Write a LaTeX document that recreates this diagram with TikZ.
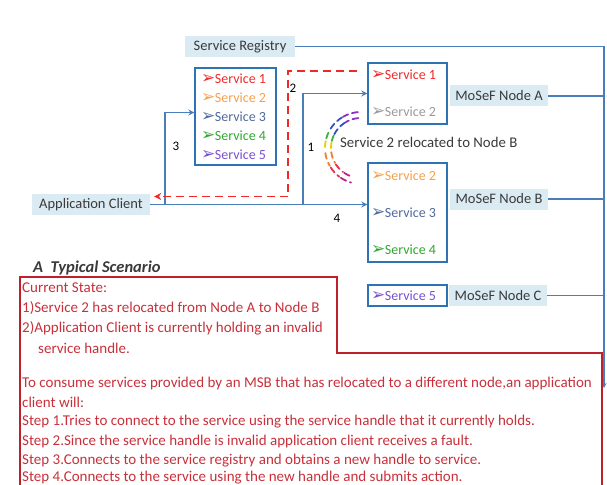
\documentclass[tikz,border=0pt]{standalone}
\usepackage{fontspec}
\setmainfont{Carlito}
\newfontfamily\djv{DejaVu Sans}
\usetikzlibrary{arrows.meta,calc}
\definecolor{lblue}{HTML}{DAEBF3}
\definecolor{bline}{HTML}{4A7EBB}
\definecolor{bbox}{HTML}{2E74B5}
\definecolor{rdash}{HTML}{F02828}
\definecolor{rtext}{HTML}{C8303A}
\definecolor{rbox}{HTML}{C0202A}
\definecolor{sred}{HTML}{EE2A2A}
\definecolor{sorange}{HTML}{F5A04A}
\definecolor{ssteel}{HTML}{4E6A9A}
\definecolor{sgreen}{HTML}{2EA82E}
\definecolor{spurple}{HTML}{7A4FD0}
\definecolor{sgray}{HTML}{9A9A9A}
\definecolor{dtext}{HTML}{3A3A3A}
\definecolor{apurple}{HTML}{8B2FC9}
\definecolor{ablue}{HTML}{3050D0}
\definecolor{agreen}{HTML}{40B040}
\definecolor{ayellow}{HTML}{E8D000}
\definecolor{aorange}{HTML}{F08030}
\definecolor{ared}{HTML}{E83050}
\definecolor{amagenta}{HTML}{C02090}
\newcommand\bul{{\djv\fontsize{17}{17}\selectfont ➢}\kern-0.5pt}
\newcommand\fs[1]{\fontsize{#1}{#1}\selectfont}
\begin{document}
\begin{tikzpicture}[x=1pt,y=-1pt,
  lbl/.style={fill=lblue, text=dtext, font=\fs{14.5}, minimum height=21pt, inner sep=0pt},
  sbox/.style={draw=bbox, line width=1.4pt, inner sep=0pt},
  svc/.style={anchor=west, font=\fs{14}, inner sep=0pt},
  bl/.style={draw=bline, line width=1.3pt},
  blarrow/.style={bl, -{Stealth[length=6pt,width=6pt]}},
  rd/.style={draw=rdash, line width=1.8pt, dash pattern=on 8pt off 5pt, -{Stealth[length=7pt,width=7pt]}},
  num/.style={font=\fs{13}, text=black, inner sep=0pt},
  rtxt/.style={anchor=west, text=rtext, font=\fs{15}, inner sep=0pt},
  arcseg/.style={line width=1.8pt, dash pattern=on 6pt off 4pt, line cap=round}
]
\useasboundingbox (0,0) rectangle (607,484);

% labels
\node[lbl, minimum width=110pt] (reg) at (240,46.5) {Service Registry};
\node[lbl, minimum width=118pt] (appc) at (91,204.5) {Application Client};
\node[lbl, minimum width=98pt] (nAl) at (499,96) {MoSeF Node A};
\node[lbl, minimum width=98pt] (nBl) at (499,199) {MoSeF Node B};
\node[lbl, minimum width=98pt] (nCl) at (498,295.5) {MoSeF Node C};

% boxes
\node[sbox, minimum width=81pt, minimum height=97pt] (list) at (235.5,116.5) {};
\node[sbox, minimum width=79pt, minimum height=61pt] (nA) at (407.5,93.5) {};
\node[sbox, minimum width=79pt, minimum height=99pt] (nB) at (407.5,212.5) {};
\node[sbox, minimum width=79pt, minimum height=21pt] (nC) at (407.5,295.5) {};

% service items
\node[svc, text=sred] (l1) at (201,79) {\bul Service 1};
\node[svc, text=sorange] (l2) at (201,98) {\bul Service 2};
\node[svc, text=ssteel] (l3) at (201,117) {\bul Service 3};
\node[svc, text=sgreen] (l4) at (201,136) {\bul Service 4};
\node[svc, text=spurple] (l5) at (201,155) {\bul Service 5};
\node[svc, text=sred] (a1) at (371,75) {\bul Service 1};
\node[svc, text=sgray] (a2) at (371,112) {\bul Service 2};
\node[svc, text=sorange] (b2) at (371,176) {\bul Service 2};
\node[svc, text=ssteel] (b3) at (371,213) {\bul Service 3};
\node[svc, text=sgreen] (b4) at (371,250) {\bul Service 4};
\node[svc, text=spurple] (c5) at (371,296) {\bul Service 5};

% coordinates
\coordinate (j3) at (165,0);
\coordinate (j4) at (303,0);
\coordinate (jr) at (288,0);
\coordinate (rt) at (604,46.5);
\coordinate (rb) at (604,388);
\coordinate (rs) at ([yshift=-9pt]nA.north west);
\coordinate (re) at ([yshift=8pt]appc.east);

% blue connectors
\draw[blarrow] (appc.east) -- (appc.east -| nB.west);
\draw[blarrow] (appc.east -| j4) |- (nA.west);
\draw[blarrow] (appc.east -| j3) |- ([yshift=4pt]list.west);
\draw[bl, -{Stealth[length=5pt,width=5pt]}] (reg.east) -- (rt) -- (rb);
\draw[bl] (nAl.east) -- (nAl.east -| rt);
\draw[bl] (nBl.east) -- (nBl.east -| rt);
\draw[bl] (nCl.east) -- (nCl.east -| rt);

% red dashed
\draw[rd, shorten <=10pt, shorten >=4pt] (rs) -- (rs -| jr) |- (re);

% numbers
\node[num] (n3) at (176,146) {3};
\node[num] (n2) at (293,88) {2};
\node[num] (n1) at (311,147) {1};
\node[num] (n4) at (337,218) {4};

% relocation
\node[anchor=west, text=dtext, font=\fs{14.8}, inner sep=0pt] (rel) at (340,142) {Service 2 relocated to Node B};
\foreach \r in {36,30} {
  \draw[arcseg, apurple] plot[domain=265:240, samples=12] ({361+\r*cos(\x)},{148+\r*sin(\x)});
  \draw[arcseg, ablue] plot[domain=238:207, samples=12] ({361+\r*cos(\x)},{148+\r*sin(\x)});
  \draw[arcseg, agreen] plot[domain=205:192, samples=8] ({361+\r*cos(\x)},{148+\r*sin(\x)});
  \draw[arcseg, ayellow] plot[domain=191:176, samples=8] ({361+\r*cos(\x)},{148+\r*sin(\x)});
  \draw[arcseg, aorange] plot[domain=172:150, samples=10] ({361+\r*cos(\x)},{148+\r*sin(\x)});
  \draw[arcseg, ared] plot[domain=147:127, samples=10] ({361+\r*cos(\x)},{148+\r*sin(\x)});
  \draw[arcseg, amagenta] plot[domain=124:106, samples=10] ({361+\r*cos(\x)},{148+\r*sin(\x)});
}

% scenario
\node[anchor=west, inner sep=0pt, text=dtext, font=\bfseries\itshape\fs{16.5}] (title) at (33,268) {A\ \ Typical Scenario};
\draw[draw=rbox, line width=1.5pt] (20,490) -- (20,277) -- (337,277) -- (337,353) -- (602,353) -- (602,490);

\node[rtxt] (t1) at (22,288) {Current State:};
\node[rtxt] (t2) at (22,308) {1)Service 2 has relocated from Node A to Node B};
\node[rtxt] (t3) at (22,328) {2)Application Client is currently holding an invalid};
\node[rtxt] (t4) at (38,348) {service handle.};
\node[rtxt] (t5) at (22,383) {To consume services provided by an MSB that has relocated to a different node,an application};
\node[rtxt] (t6) at (22,402.5) {client will:};
\node[rtxt] (t7) at (22,422) {Step 1.Tries to connect to the service using the service handle that it currently holds.};
\node[rtxt] (t8) at (22,441.5) {Step 2.Since the service handle is invalid application client receives a fault.};
\node[rtxt] (t9) at (22,461) {Step 3.Connects to the service registry and obtains a new handle to service.};
\node[rtxt] (t10) at (22,477.5) {Step 4.Connects to the service using the new handle and submits action.};
\end{tikzpicture}
\end{document}
